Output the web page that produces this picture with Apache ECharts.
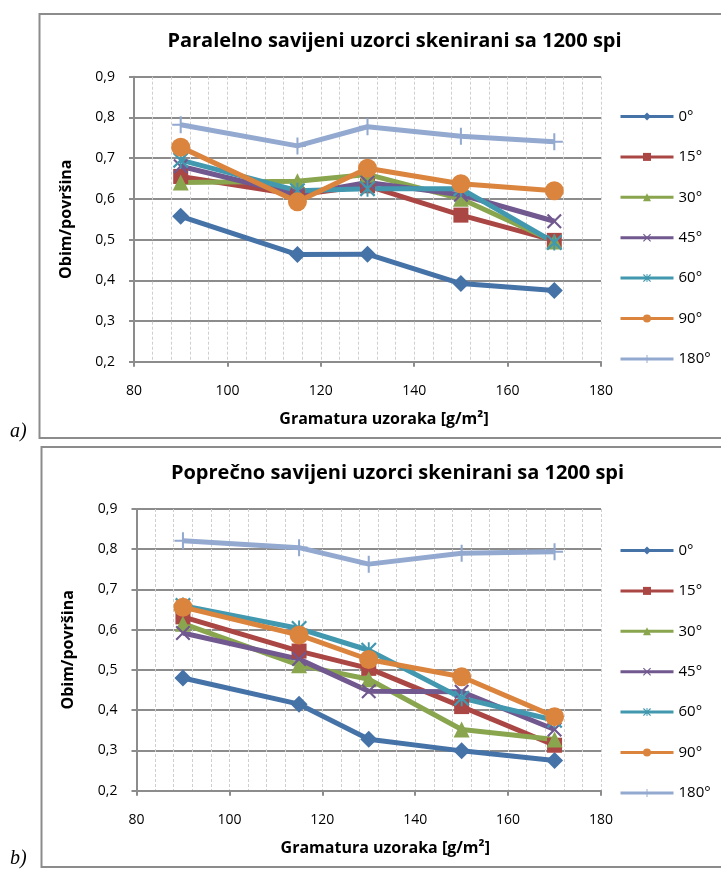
<!DOCTYPE html>
<html><head><meta charset="utf-8">
<script src="https://cdn.jsdelivr.net/npm/echarts@6/dist/echarts.min.js"></script>
<style>html,body{margin:0;padding:0;background:#fff}#c{width:721px;height:869px}</style>
</head><body><div id="c"></div>
<script>
// ---- data ----
const xValues = [90, 115, 130, 150, 170];
const seriesNames = ['0°', '15°', '30°', '45°', '60°', '90°', '180°'];
const chartTitles = ['Paralelno savijeni uzorci skenirani sa 1200 spi', 'Poprečno savijeni uzorci skenirani sa 1200 spi'];
const yAxisTitle = 'Obim/površina';
const xAxisTitle = 'Gramatura uzoraka [g/m²]';
const panelLabels = ['a)', 'b)'];
const xTicks = [80, 100, 120, 140, 160, 180];
const yTicks = [0.2, 0.3, 0.4, 0.5, 0.6, 0.7, 0.8, 0.9];

// a) Paralelno savijeni
const par0   = [0.557, 0.463, 0.464, 0.392, 0.375];
const par15  = [0.655, 0.610, 0.632, 0.560, 0.498];
const par30  = [0.640, 0.643, 0.660, 0.600, 0.495];
const par45  = [0.680, 0.610, 0.640, 0.610, 0.545];
const par60  = [0.695, 0.620, 0.625, 0.625, 0.493];
const par90  = [0.727, 0.593, 0.675, 0.637, 0.620];
const par180 = [0.782, 0.730, 0.777, 0.754, 0.740];

// b) Poprečno savijeni
const pop0   = [0.480, 0.415, 0.328, 0.299, 0.275];
const pop15  = [0.632, 0.547, 0.504, 0.409, 0.313];
const pop30  = [0.615, 0.512, 0.477, 0.352, 0.327];
const pop45  = [0.592, 0.527, 0.447, 0.446, 0.352];
const pop60  = [0.660, 0.603, 0.549, 0.430, 0.375];
const pop90  = [0.656, 0.587, 0.526, 0.483, 0.384];
const pop180 = [0.821, 0.804, 0.763, 0.790, 0.794];

const parData = [par0, par15, par30, par45, par60, par90, par180];
const popData = [pop0, pop15, pop30, pop45, pop60, pop90, pop180];

// ---- styles ----
const colors = ['#4572A7', '#AA4643', '#89A54E', '#71588F', '#4198AF', '#DB843D', '#93A9CF'];
const X_PATH = 'path://M1,0 L5,4 L9,0 L10,1 L6,5 L10,9 L9,10 L5,6 L1,10 L0,9 L4,5 L0,1 Z';
const STAR_PATH = 'path://M1,0 L5,4 L9,0 L10,1 L6,5 L10,9 L9,10 L5,6 L1,10 L0,9 L4,5 L0,1 Z M4.4,0 L5.6,0 L5.6,10 L4.4,10 Z';
const PLUS_PATH = 'path://M4.4,0 L5.6,0 L5.6,4.4 L10,4.4 L10,5.6 L5.6,5.6 L5.6,10 L4.4,10 L4.4,5.6 L0,5.6 L0,4.4 L4.4,4.4 Z';
const symbols = ['diamond', 'rect', 'triangle', X_PATH, STAR_PATH, 'circle', PLUS_PATH];
const symbolSizes = [17, 15, 16, 15, 16, 19, 17];
const FONT = '"Open Sans", "Liberation Sans", sans-serif';
const GRID_GRAY = '#8c8c8c';

const grids = [
  { left: 134, top: 76.7, width: 467, height: 285 },
  { left: 136.5, top: 509, width: 464.5, height: 281.7 }
];

function xAxisFor(i) {
  return {
    gridIndex: i, type: 'value', min: xTicks[0], max: xTicks[xTicks.length - 1], interval: 20,
    name: xAxisTitle, nameLocation: 'middle', nameGap: 50,
    nameTextStyle: { fontFamily: FONT, fontWeight: 'bold', fontSize: 16, color: '#000', padding: [0, 0, 0, 33] },
    axisLine: { show: true, lineStyle: { color: GRID_GRAY, width: 2 } },
    axisTick: { show: true, length: 5, lineStyle: { color: GRID_GRAY, width: 2 } },
    axisLabel: { margin: 22, fontSize: 14, fontFamily: FONT, color: '#000' },
    splitLine: { show: true, lineStyle: { color: '#cfcfcf', type: [3, 2], width: 1 } },
    minorTick: { show: false, splitNumber: 5 },
    minorSplitLine: { show: true, lineStyle: { color: '#cfcfcf', type: [3, 2], width: 1 } }
  };
}
function yAxisFor(i) {
  return {
    gridIndex: i, type: 'value', min: yTicks[0], max: yTicks[yTicks.length - 1], interval: 0.1,
    name: yAxisTitle, nameLocation: 'middle', nameRotate: 90, nameGap: 60,
    nameTextStyle: { fontFamily: FONT, fontWeight: 'bold', fontSize: 16, color: '#000' },
    axisLine: { show: true, lineStyle: { color: GRID_GRAY, width: 2 } },
    axisTick: { show: true, length: 5, lineStyle: { color: GRID_GRAY, width: 2 } },
    axisLabel: { margin: 19, fontSize: 14, fontFamily: FONT, color: '#000',
      formatter: v => v.toFixed(1).replace('.', ',') },
    splitLine: { show: true, lineStyle: { color: GRID_GRAY, width: 2 } }
  };
}

const series = [];
[parData, popData].forEach((set, gi) => {
  set.forEach((vals, si) => {
    series.push({
      type: 'line', name: seriesNames[si], xAxisIndex: gi, yAxisIndex: gi,
      data: xValues.map((x, k) => [x, vals[k]]),
      symbol: symbols[si], symbolSize: symbolSizes[si], showSymbol: true,
      lineStyle: { width: 5, color: colors[si] },
      itemStyle: { color: colors[si] },
      z: 2
    });
  });
});

const legendCommon = {
  orient: 'vertical', left: 619, padding: 0, itemWidth: 53, itemHeight: 10, itemGap: 25.4,
  textStyle: { fontFamily: FONT, fontSize: 15, color: '#000' },
  lineStyle: { width: 3 }, data: seriesNames, selectedMode: false
};

const option = {
  animation: false,
  backgroundColor: '#fff',
  color: colors,
  title: [
    { text: chartTitles[0], left: 394.5, top: 31, textAlign: 'center', padding: 0,
      textStyle: { fontFamily: FONT, fontWeight: 'bold', fontSize: 20, color: '#000' } },
    { text: chartTitles[1], left: 397.5, top: 463, textAlign: 'center', padding: 0,
      textStyle: { fontFamily: FONT, fontWeight: 'bold', fontSize: 20, color: '#000' } }
  ],
  legend: [
    Object.assign({ top: 109 }, legendCommon),
    Object.assign({ top: 543 }, legendCommon)
  ],
  grid: grids,
  xAxis: [xAxisFor(0), xAxisFor(1)],
  yAxis: [yAxisFor(0), yAxisFor(1)],
  series: series,
  graphic: [
    { type: 'rect', z: -1, silent: true, shape: { x: 39.5, y: 14, width: 700, height: 424 },
      style: { fill: 'none', stroke: GRID_GRAY, lineWidth: 2 } },
    { type: 'rect', z: -1, silent: true, shape: { x: 41.5, y: 447, width: 700, height: 420 },
      style: { fill: 'none', stroke: GRID_GRAY, lineWidth: 2 } },
    { type: 'text', left: 10, top: 422, silent: true,
      style: { text: panelLabels[0], font: 'italic 20px "Liberation Serif", serif', fill: '#000' } },
    { type: 'text', left: 10, top: 849, silent: true,
      style: { text: panelLabels[1], font: 'italic 20px "Liberation Serif", serif', fill: '#000' } }
  ]
};

const chart = echarts.init(document.getElementById('c'), null, { renderer: 'canvas' });
chart.setOption(option);
</script>
</body></html>
